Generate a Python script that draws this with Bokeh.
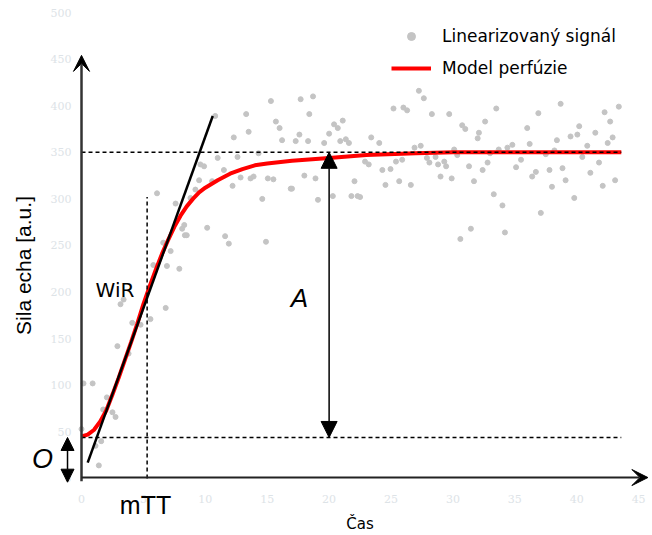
from bokeh.plotting import figure
from bokeh.models import (Range1d, Arrow, NormalHead, VeeHead, Label, Legend,
                          LegendItem, FixedTicker)
from bokeh.embed import file_html
from bokeh.resources import INLINE

# ---- data ----
t_signal = [0.0, 0.16, 0.9, 1.13, 1.4, 1.59, 1.75, 2.05, 2.5, 2.75, 2.9, 3.15, 3.4, 3.8,
            4.1, 4.77, 5.57, 5.8, 6.1, 6.6, 6.8, 6.9, 7.2, 7.6, 7.9, 8.13, 8.3, 8.35, 8.5,
            8.8, 9.2, 9.5, 9.6, 9.9, 10.15, 10.55, 10.8, 11.0, 11.5, 11.6, 11.9, 12.2, 12.3,
            12.6, 12.85, 13.3, 13.5, 13.65, 13.9, 14.3, 14.6, 14.9, 15.05, 15.3, 15.5, 15.7,
            16.0, 16.2, 16.9, 17.0, 17.3, 17.6, 17.7, 18.0, 18.3, 18.4, 18.7, 18.9, 19.1,
            19.6, 20.0, 20.3, 20.4, 20.7, 20.9, 21.1, 21.35, 21.6, 21.8, 22.05, 22.3, 22.5,
            22.9, 23.2, 23.4, 24.05, 24.3, 24.55, 24.96, 25.2, 25.4, 25.66, 25.9, 26.0, 26.3,
            26.6, 26.9, 27.25, 27.4, 27.65, 27.9, 28.1, 28.3, 28.6, 28.8, 29.0, 29.3, 29.45,
            29.7, 29.9, 30.1, 30.35, 30.6, 30.75, 31.0, 31.3, 31.45, 31.7, 32.0, 32.1, 32.4,
            32.6, 32.8, 33.0, 33.3, 33.5, 33.7, 34.0, 34.2, 34.4, 34.8, 35.1, 35.5, 36.0,
            36.2, 36.4, 36.7, 36.9, 37.1, 37.5, 37.8, 38.0, 38.2, 38.4, 38.7, 38.85, 39.1,
            39.5, 39.8, 40.05, 40.2, 40.45, 40.85, 41.1, 41.5, 41.8, 42.1, 42.25, 42.5, 42.7,
            42.9, 43.1, 43.4]
v_signal = [53, 102, 102, 35, 14, 40, 74, 87, 71, 66, 142, 187, 192, 134,
            167, 165, 171, 229, 306, 253, 183, 228, 244, 295, 225, 268, 272, 261, 261,
            301, 310, 320, 337, 335, 269, 319, 389, 344, 331, 260, 252, 314, 366,
            345, 323, 391, 372, 322, 324, 349, 300, 254, 322, 405, 321, 383,
            376, 363, 311, 311, 362, 369, 407, 325, 362, 391, 410, 322, 299,
            360, 370, 303, 380, 376, 362, 384, 364, 360, 303, 319, 303, 302,
            340, 337, 366, 360, 331, 315, 332, 397, 340, 319, 342, 398, 395,
            315, 355, 416, 357, 408, 344, 339, 391, 345, 337, 324, 340, 335,
            391, 322, 353, 347, 257, 379, 375, 335, 268, 319, 365, 371, 331,
            383, 339, 349, 305, 397, 353, 293, 264, 355, 358, 334, 342, 376,
            359, 324, 329, 392, 285, 348, 331, 313, 352, 363, 402, 333, 320,
            367, 301, 369, 378, 345, 357, 328, 371, 339, 314, 393, 360, 383,
            366, 320, 399]

t_model = [0.0, 0.5, 1.0, 1.5, 2.0, 2.5, 3.0, 3.5, 4.0, 4.5, 5.0, 5.5, 6.0, 6.5, 7.0,
           7.5, 8.0, 8.5, 9.0, 9.5, 10.0, 11.0, 12.0, 13.0, 14.0, 15.0, 17.0, 20.0,
           23.0, 27.0, 30.0, 43.6]
v_model = [45, 47, 52, 61, 73, 90, 108, 127, 146, 166, 187, 206, 224, 241, 256,
           270, 282, 292, 300, 307, 312, 320, 327, 332, 336, 338, 341, 344,
           347, 349, 350, 350]

tangent_t = [0.5, 10.6]
tangent_v = [17, 389]

baseline_O = 44
plateau = 350
line_end = 43.6
mtt = 5.3
mtt_top = 302
a_time = 20.0
axis_top = 454
axis_right = 45.75

x_ticks = [0, 5, 10, 15, 20, 25, 30, 35, 40, 45]
y_ticks = [0, 50, 100, 150, 200, 250, 300, 350, 400, 450, 500]

# ---- figure (frame fills the whole canvas; axes sit at fixed data positions) ----
p = figure(width=652, height=535, output_backend="svg", toolbar_location=None,
           x_range=Range1d(-6.543, 46.12), y_range=Range1d(-61.2, 512.9),
           min_border_left=0, min_border_right=0, min_border_top=0,
           min_border_bottom=0)
p.outline_line_color = None
p.grid.visible = False
p.background_fill_color = "white"

p.xaxis.ticker = FixedTicker(ticks=x_ticks)
p.yaxis.ticker = FixedTicker(ticks=y_ticks)
p.xaxis.fixed_location = 0
p.yaxis.fixed_location = 0
p.xaxis.bounds = (0, 45)
p.yaxis.bounds = (-43, 500)
for ax in (p.xaxis[0], p.yaxis[0]):
    ax.axis_line_color = None
    ax.major_tick_line_color = None
    ax.minor_tick_line_color = None
    ax.major_label_text_color = "#dde3e7"
    ax.major_label_text_font = "DejaVu Serif"
    ax.major_label_text_font_size = "11px"
    ax.axis_label_text_font_style = "normal"
    ax.axis_label_text_color = "black"
p.yaxis.major_label_standoff = 4
p.xaxis.major_label_standoff = 11

p.xaxis.axis_label = "Čas"
p.xaxis.axis_label_text_font = "DejaVu Sans"
p.xaxis.axis_label_text_font_size = "15px"
p.xaxis.axis_label_standoff = 8

p.yaxis.axis_label = "Sila echa [a.u.]"
p.yaxis.axis_label_text_font = "Liberation Sans"
p.yaxis.axis_label_text_font_size = "21px"
p.yaxis.axis_label_standoff = 13

# ---- glyphs ----
r_sc = p.scatter(t_signal, v_signal, size=5, color="#c4c4c4")
r_model = p.line(t_model, v_model, line_color="#ff0000", line_width=4)

p.line([0, line_end], [plateau, plateau], line_color="black", line_width=1.5,
       line_dash="4 3")
p.line([0, line_end], [baseline_O, baseline_O], line_color="black", line_width=1.5,
       line_dash="4 3")
p.line([mtt, mtt], [0, mtt_top], line_color="black", line_width=1.5, line_dash="4 3")

p.line(tangent_t, tangent_v, line_color="black", line_width=2.5)

# axes drawn as arrows
p.add_layout(Arrow(x_start=0, y_start=-3, x_end=0, y_end=axis_top,
                   line_color="#333333", line_width=2.5,
                   end=VeeHead(size=16, fill_color="black", line_color="black")))
p.add_layout(Arrow(x_start=0, y_start=1, x_end=axis_right, y_end=1,
                   line_color="#222222", line_width=2,
                   end=VeeHead(size=16, fill_color="black", line_color="black")))

# amplitude A
p.add_layout(Arrow(x_start=a_time, y_start=baseline_O, x_end=a_time, y_end=plateau,
                   line_color="black", line_width=1.5,
                   start=NormalHead(size=16, fill_color="black", line_color="black"),
                   end=NormalHead(size=16, fill_color="black", line_color="black")))
# offset O
p.add_layout(Arrow(x_start=-1.13, y_start=-4, x_end=-1.13, y_end=baseline_O,
                   line_color="black", line_width=1.5,
                   start=NormalHead(size=13, fill_color="black", line_color="black"),
                   end=NormalHead(size=13, fill_color="black", line_color="black")))

p.add_layout(Label(x=2.7, y=202, text="WiR", text_font="DejaVu Sans",
                   text_color="black", text_font_size="20px",
                   text_align="center", text_baseline="middle"))
p.add_layout(Label(x=17.6, y=194, text="A", text_font="Liberation Sans",
                   text_color="black", text_font_size="26px", text_font_style="italic",
                   text_align="center", text_baseline="middle"))
p.add_layout(Label(x=5.17, y=-28, text="mTT", text_font="Liberation Sans",
                   text_color="black", text_font_size="25px",
                   text_align="center", text_baseline="middle"))
p.add_layout(Label(x=-3.15, y=21, text="O", text_font="Liberation Sans",
                   text_color="black", text_font_size="27px", text_font_style="italic",
                   text_align="center", text_baseline="middle"))

legend = Legend(items=[LegendItem(label="Linearizovaný signál", renderers=[r_sc]),
                       LegendItem(label="Model perfúzie", renderers=[r_model])],
                location=(391, 457), background_fill_alpha=0, border_line_color=None,
                label_text_font="DejaVu Sans", label_text_font_size="17px",
                label_text_color="black",
                glyph_width=40, glyph_height=20, label_height=20, spacing=12,
                padding=5, margin=0, label_standoff=11)
p.add_layout(legend)

open("out.html", "w").write(file_html(p, INLINE))
